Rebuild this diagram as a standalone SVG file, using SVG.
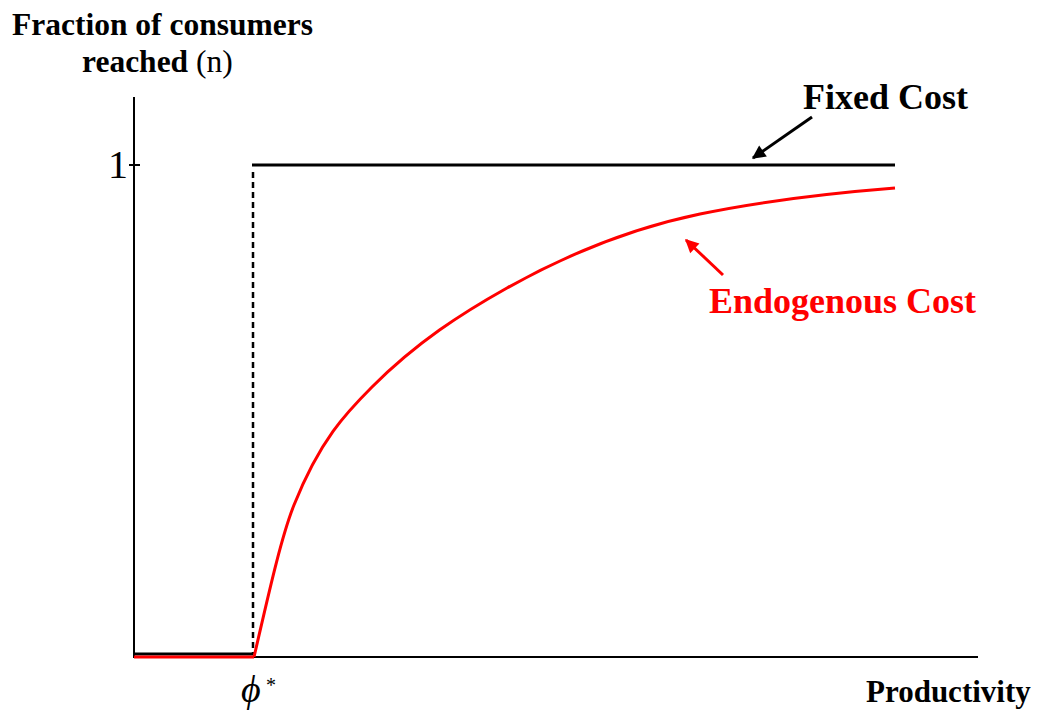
<svg xmlns="http://www.w3.org/2000/svg" width="1041" height="712" viewBox="0 0 1041 712">
<defs>
<style>
.t{font-family:"Liberation Serif","Times New Roman",serif;fill:#000}
.b{font-weight:bold}
.red{fill:#FF0000}
.ax{stroke:#000;stroke-width:2;fill:none}
.blk{stroke:#000;stroke-width:3;fill:none}
.rc{stroke:#FF0000;stroke-width:3;fill:none}
</style>
<marker id="ah" viewBox="0 0 10 10" refX="9" refY="5" markerWidth="5" markerHeight="4.5" orient="auto" markerUnits="strokeWidth">
<path d="M0,0 L10,5 L0,10 z" fill="#000"/>
</marker>
<marker id="ahr" viewBox="0 0 10 10" refX="9" refY="5" markerWidth="5" markerHeight="4.5" orient="auto" markerUnits="strokeWidth">
<path d="M0,0 L10,5 L0,10 z" fill="#FF0000"/>
</marker>
</defs>
<rect width="1041" height="712" fill="#fff"/>
<g id="axes">
<line class="ax" x1="134" y1="97" x2="134" y2="657"/>
<line class="ax" x1="133" y1="657" x2="978" y2="657"/>
<line class="ax" x1="129" y1="165" x2="140" y2="165"/>
</g>
<g id="labels">
<text class="t b" x="12" y="35" font-size="31.5">Fraction of consumers</text>
<text class="t" x="82" y="72" font-size="31.5"><tspan class="b">reached </tspan>(n)</text>
<text class="t" x="108" y="178" font-size="40">1</text>
<text class="t b" x="866" y="702" font-size="31">Productivity</text>
<text class="t" x="241" y="702" font-size="38" font-style="italic">ϕ</text>
<text class="t" x="266" y="692" font-size="20">*</text>
</g>
<g id="fixed-cost">
<line class="blk" x1="134" y1="654" x2="253" y2="654"/>
<line x1="253" y1="172" x2="253" y2="655" stroke="#000" stroke-width="2.5" stroke-dasharray="6,4"/>
<line class="blk" x1="252" y1="165" x2="895" y2="165"/>
<text class="t b" x="803" y="109" font-size="36">Fixed Cost</text>
</g>
<g id="endogenous-cost">
<line class="rc" x1="134" y1="657" x2="254" y2="657"/>
<path class="rc" d="M254,657 C267.33,599.7 280.67,538.3 294,505 C320,440 346,413 372,387 C417,342 462,313.2 507,288 C571.33,252 635.67,227.3 700,214 C765,200.5 830,193.2 895,188"/>
<text class="t b red" x="709" y="313" font-size="36">Endogenous Cost</text>
</g>
<g id="connectors">
<line x1="812" y1="117" x2="753" y2="158" stroke="#000" stroke-width="3" marker-end="url(#ah)"/>
<line x1="723" y1="275" x2="686" y2="240" stroke="#FF0000" stroke-width="3" marker-end="url(#ahr)"/>
</g>
</svg>
